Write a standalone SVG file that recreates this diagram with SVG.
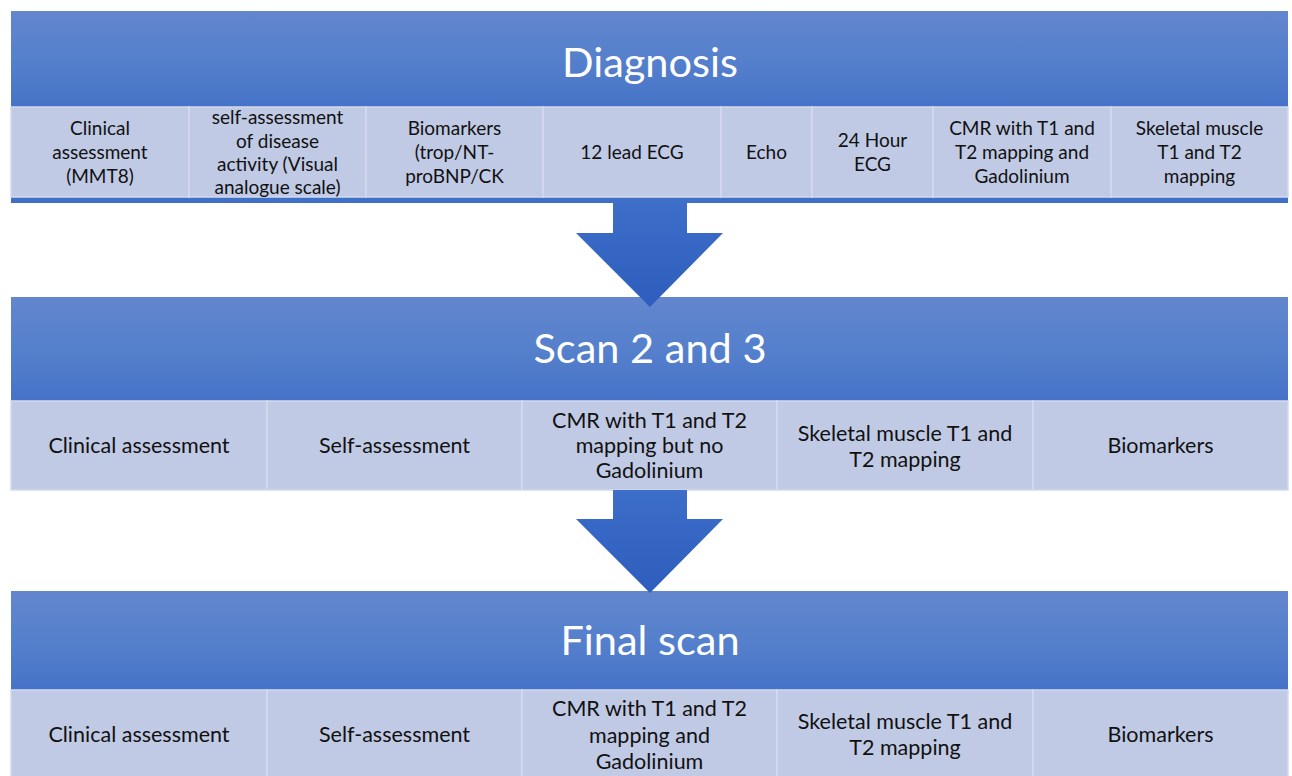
<svg xmlns="http://www.w3.org/2000/svg" width="1292" height="776" viewBox="0 0 1292 776">
<defs>
<linearGradient id="band" x1="0" y1="0" x2="0" y2="1">
<stop offset="0" stop-color="#6386CE"/>
<stop offset="0.5" stop-color="#5580CC"/>
<stop offset="1" stop-color="#4673C8"/>
</linearGradient>
<linearGradient id="arr" x1="0" y1="0" x2="0" y2="1">
<stop offset="0" stop-color="#3D6EC9"/>
<stop offset="1" stop-color="#2E5DBD"/>
</linearGradient>
<style>
.band{fill:url(#band);}
.cell{fill:#C0CAE5;stroke:#D3DAEE;stroke-width:1.5;}
.bar{fill:#3F6FC7;}
.title{font-family:Lato,"Open Sans",sans-serif;font-size:41.5px;fill:#FFFFFF;text-anchor:middle;}
.t{font-family:Lato,"Open Sans",sans-serif;font-size:19px;fill:#111111;text-anchor:middle;}
.u{font-family:Lato,"Open Sans",sans-serif;font-size:21.5px;fill:#111111;text-anchor:middle;}
.arrow{fill:url(#arr);}
</style>
</defs>
<rect width="1292" height="776" fill="#FFFFFF"/>

<g id="diagnosis">
<rect class="band" x="11" y="11" width="1277" height="96"/>
<text class="title" x="650" y="77">Diagnosis</text>
<rect class="bar" x="11" y="196" width="1277" height="7"/>
<g id="d1"><rect class="cell" x="11" y="107" width="178" height="90"/>
<text class="t" x="100" y="135">Clinical</text><text class="t" x="100" y="159">assessment</text><text class="t" x="100" y="183">(MMT8)</text></g>
<g id="d2"><rect class="cell" x="189" y="107" width="177" height="90"/>
<text class="t" x="277.5" y="124">self-assessment</text><text class="t" x="277.5" y="148">of disease</text><text class="t" x="277.5" y="171">activity (Visual</text><text class="t" x="277.5" y="194">analogue scale)</text></g>
<g id="d3"><rect class="cell" x="366" y="107" width="177" height="90"/>
<text class="t" x="454.5" y="135">Biomarkers</text><text class="t" x="454.5" y="159">(trop/NT-</text><text class="t" x="454.5" y="183">proBNP/CK</text></g>
<g id="d4"><rect class="cell" x="543" y="107" width="178" height="90"/>
<text class="t" x="632" y="159">12 lead ECG</text></g>
<g id="d5"><rect class="cell" x="721" y="107" width="91" height="90"/>
<text class="t" x="766.5" y="159">Echo</text></g>
<g id="d6"><rect class="cell" x="812" y="107" width="121" height="90"/>
<text class="t" x="872.5" y="147">24 Hour</text><text class="t" x="872.5" y="171">ECG</text></g>
<g id="d7"><rect class="cell" x="933" y="107" width="178" height="90"/>
<text class="t" x="1022" y="135">CMR with T1 and</text><text class="t" x="1022" y="159">T2 mapping and</text><text class="t" x="1022" y="183">Gadolinium</text></g>
<g id="d8"><rect class="cell" x="1111" y="107" width="177" height="90"/>
<text class="t" x="1199.5" y="135">Skeletal muscle</text><text class="t" x="1199.5" y="159">T1 and T2</text><text class="t" x="1199.5" y="183">mapping</text></g>
</g>

<g id="scan23">
<rect class="band" x="11" y="297" width="1277" height="104"/>
<text class="title" x="650" y="363">Scan 2 and 3</text>
<g id="s1"><rect class="cell" x="11" y="401" width="256" height="89"/>
<text class="u" x="139" y="453">Clinical assessment</text></g>
<g id="s2"><rect class="cell" x="267" y="401" width="255" height="89"/>
<text class="u" x="394.5" y="453">Self-assessment</text></g>
<g id="s3"><rect class="cell" x="522" y="401" width="255" height="89"/>
<text class="u" x="649.5" y="428">CMR with T1 and T2</text><text class="u" x="649.5" y="453">mapping but no</text><text class="u" x="649.5" y="478">Gadolinium</text></g>
<g id="s4"><rect class="cell" x="777" y="401" width="256" height="89"/>
<text class="u" x="905" y="441">Skeletal muscle T1 and</text><text class="u" x="905" y="467">T2 mapping</text></g>
<g id="s5"><rect class="cell" x="1033" y="401" width="255" height="89"/>
<text class="u" x="1160.5" y="453">Biomarkers</text></g>
</g>

<g id="finalscan">
<rect class="band" x="11" y="591" width="1277" height="99"/>
<text class="title" x="650" y="655">Final scan</text>
<g id="f1"><rect class="cell" x="11" y="690" width="256" height="90"/>
<text class="u" x="139" y="742">Clinical assessment</text></g>
<g id="f2"><rect class="cell" x="267" y="690" width="255" height="90"/>
<text class="u" x="394.5" y="742">Self-assessment</text></g>
<g id="f3"><rect class="cell" x="522" y="690" width="255" height="90"/>
<text class="u" x="649.5" y="716">CMR with T1 and T2</text><text class="u" x="649.5" y="743">mapping and</text><text class="u" x="649.5" y="769">Gadolinium</text></g>
<g id="f4"><rect class="cell" x="777" y="690" width="256" height="90"/>
<text class="u" x="905" y="729">Skeletal muscle T1 and</text><text class="u" x="905" y="755">T2 mapping</text></g>
<g id="f5"><rect class="cell" x="1033" y="690" width="255" height="90"/>
<text class="u" x="1160.5" y="742">Biomarkers</text></g>
</g>

<g id="connectors">
<polygon class="arrow" points="613,203 687,203 687,233 723,233 650,307 576,233 613,233"/>
<polygon class="arrow" points="613,490 687,490 687,519 723,519 650,593 576,519 613,519"/>
</g>
</svg>
